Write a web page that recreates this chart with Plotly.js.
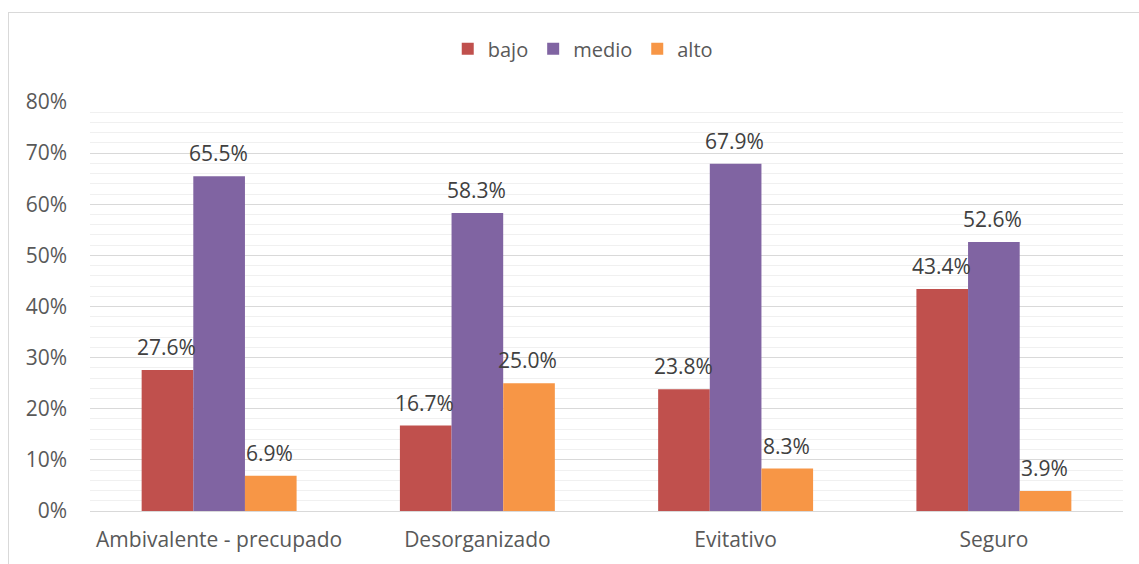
<!DOCTYPE html>
<html>
<head>
<meta charset="utf-8">
<script src="https://cdn.plot.ly/plotly-3.0.1.min.js"></script>
<style>
  body { margin: 0; background: #fff; }
  #frame { position: absolute; left: 8px; top: 12px; width: 1200px; height: 600px; border: 1px solid #d9d9d9; }
  #myDiv { position: absolute; left: 0; top: 0; width: 1139px; height: 564px; }
</style>
</head>
<body>
<div id="frame"></div>
<div id="myDiv"></div>
<script>
// categories and values
let categories = ['Ambivalente - precupado', 'Desorganizado', 'Evitativo', 'Seguro'];
let bajo = [0.276, 0.167, 0.238, 0.434];
let medio = [0.655, 0.583, 0.679, 0.526];
let alto = [0.069, 0.25, 0.083, 0.039];
let yTicks = [0, 0.1, 0.2, 0.3, 0.4, 0.5, 0.6, 0.7, 0.8];
let yTickText = ['0%', '10%', '20%', '30%', '40%', '50%', '60%', '70%', '80%'];

let series = [
    { name: 'bajo', values: bajo, color: '#c0504d' },
    { name: 'medio', values: medio, color: '#8064a2' },
    { name: 'alto', values: alto, color: '#f79646' }
];

let data = series.map(s => ({
    type: 'bar',
    name: s.name,
    x: categories,
    y: s.values,
    marker: { color: s.color },
    hoverinfo: 'none'
}));

// data labels as annotations, lifted a bit above each bar
let annotations = [];
series.forEach((s, i) => {
    s.values.forEach((v, j) => {
        annotations.push({
            x: categories[j],
            y: v,
            xref: 'x',
            yref: 'y',
            text: (v * 100).toFixed(1) + '%',
            showarrow: false,
            xanchor: 'center',
            yanchor: 'bottom',
            xshift: (i - 1) * 51.6 - 1,
            yshift: 7,
            font: { size: 21, color: '#404040' }
        });
    });
});

let layout = {
    width: 1139,
    height: 564,
    margin: { l: 90, r: 16, t: 102, b: 53 },
    paper_bgcolor: 'rgba(0,0,0,0)',
    plot_bgcolor: 'rgba(0,0,0,0)',
    font: { family: '"Open Sans", "Noto Sans", sans-serif', size: 21, color: '#595959' },
    barmode: 'group',
    bargap: 0.4,
    bargroupgap: 0,
    showlegend: true,
    legend: {
        orientation: 'h',
        x: 0.477,
        xanchor: 'center',
        y: 1.13,
        yanchor: 'middle',
        font: { size: 20, color: '#595959' },
        itemwidth: 30
    },
    annotations: annotations,
    xaxis: {
        type: 'category',
        tickfont: { size: 21, color: '#595959' },
        showline: true,
        linecolor: '#d9d9d9',
        linewidth: 1,
        ticks: '',
        showgrid: false,
        zeroline: false,
        ticklabelstandoff: 10
    },
    yaxis: {
        range: [0, 0.8],
        tickvals: yTicks,
        ticktext: yTickText,
        tickfont: { size: 21, color: '#595959' },
        showgrid: true,
        gridcolor: '#d9d9d9',
        gridwidth: 1,
        minor: { dtick: 0.02, showgrid: true, gridcolor: '#f0f0f0', gridwidth: 1 },
        zeroline: false,
        ticks: '',
        ticklabelstandoff: 22
    }
};

Plotly.newPlot('myDiv', data, layout, { displayModeBar: false, staticPlot: true });
</script>
</body>
</html>
